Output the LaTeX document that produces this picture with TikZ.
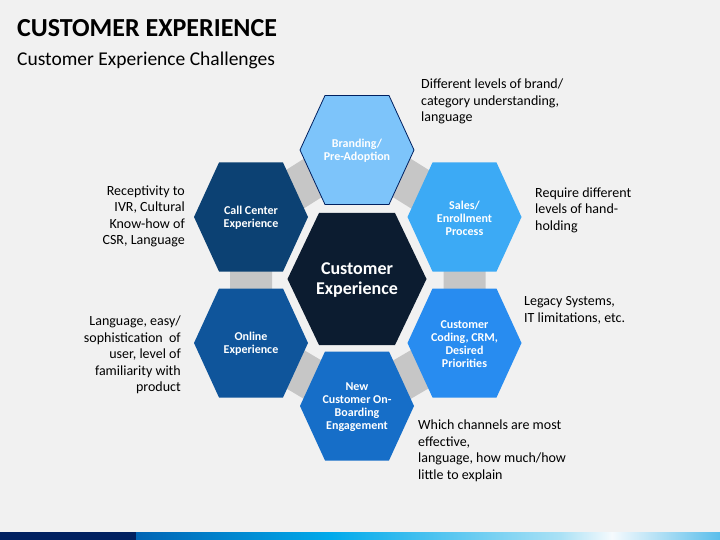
\documentclass[tikz,border=0pt]{standalone}
\usepackage{fontspec}
\setmainfont{Carlito}
\definecolor{bgc}{RGB}{241,241,241}
\definecolor{cbrand}{RGB}{125,196,250}
\definecolor{ccall}{RGB}{12,65,115}
\definecolor{csales}{RGB}{60,170,245}
\definecolor{ccenter}{RGB}{12,28,48}
\definecolor{conline}{RGB}{15,85,155}
\definecolor{ccoding}{RGB}{40,140,240}
\definecolor{cnew}{RGB}{22,110,200}
\definecolor{cband}{RGB}{198,198,198}
\definecolor{cnavy}{RGB}{0,32,96}
\newcommand\hexpath[5]{(#1-#3,#2) -- (#1-#5,#2-#4) -- (#1+#5,#2-#4) -- (#1+#3,#2) -- (#1+#5,#2+#4) -- (#1-#5,#2+#4) -- cycle}
\begin{document}
\begin{tikzpicture}[x=1pt,y=-1pt,
  hextext/.style={text=white,font=\bfseries\fontsize{12}{13}\selectfont,align=center,inner sep=0},
  note/.style={font=\fontsize{14}{16.5}\selectfont,inner sep=0,text=black},
  notel/.style={note,align=left,anchor=west},
  noter/.style={note,align=right,anchor=east}]
\fill[bgc] (0,0) rectangle (720,540);
\useasboundingbox (0,0) rectangle (720,540);
% title
\node[anchor=base west,inner sep=0,font=\bfseries\fontsize{26}{30}\selectfont] (title) at (17,37) {CUSTOMER EXPERIENCE};
\node[anchor=base west,inner sep=0,font=\fontsize{19.5}{23}\selectfont] (subtitle) at (17,66) {Customer Experience Challenges};
% gray band
\coordinate (pcall) at (251,217);
\coordinate (pbrand) at (357,150);
\coordinate (psales) at (464.5,217);
\coordinate (pcoding) at (464.5,343);
\coordinate (pnew) at (357,406);
\coordinate (ponline) at (251,343);
\draw[cband,line width=42pt,line join=round] (pcall) -- (pbrand) -- (psales) -- (pcoding) -- (pnew) -- (ponline) -- cycle;
% hexagons
\fill[cbrand,draw=cnavy,line width=0.8pt] \hexpath{357}{150}{57}{54.5}{32};
\fill[ccall] \hexpath{251}{217}{57}{54.5}{32};
\fill[csales] \hexpath{464.5}{217}{57}{54.5}{32};
\fill[conline] \hexpath{251}{343}{57}{54.5}{32};
\fill[ccoding] \hexpath{464.5}{343}{57}{54.5}{32};
\fill[cnew] \hexpath{357}{406}{57}{54.5}{32};
\fill[ccenter] \hexpath{357}{279}{69.5}{66}{38};
% hexagon texts
\node[hextext] (brand) at (357,151) {Branding/\\Pre-Adoption};
\node[hextext] (call) at (251,218) {Call Center\\Experience};
\node[hextext] (sales) at (464.5,218) {Sales/\\Enrollment\\Process};
\node[hextext,font=\bfseries\fontsize{18}{20}\selectfont] (center) at (357,280) {Customer\\Experience};
\node[hextext] (online) at (251,344) {Online\\Experience};
\node[hextext] (coding) at (464.5,344) {Customer\\Coding, CRM,\\Desired\\Priorities};
\node[hextext] (new) at (357,407) {New\\Customer On-\\Boarding\\Engagement};
% notes
\node[notel] (nbrand) at (421,101.5) {Different levels of brand/\\category understanding,\\language};
\node[notel] (nsales) at (535,210) {Require different\\levels of hand-\\holding};
\node[notel] (ncoding) at (524,310.5) {Legacy Systems,\\IT limitations, etc.};
\node[notel] (nnew) at (418,451) {Which channels are most\\effective,\\language, how much/how\\little to explain};
\node[noter] (ncall) at (185,216.5) {Receptivity to\\IVR, Cultural\\Know-how of\\CSR, Language};
\node[noter] (nonline) at (181,355) {Language, easy/\\sophistication~ of\\user, level of\\familiarity with\\product};
% bottom bar
\fill[cnavy] (0,532) rectangle (136,540);
\shade[left color={rgb,255:red,0;green,100;blue,180},right color={rgb,255:red,0;green,170;blue,235}] (136,532) rectangle (330,540);
\shade[left color={rgb,255:red,0;green,170;blue,235},right color={rgb,255:red,170;green,225;blue,245}] (330,532) rectangle (560,540);
\shade[left color={rgb,255:red,170;green,225;blue,245},right color={rgb,255:red,245;green,250;blue,253}] (560,532) rectangle (612,540);
\shade[left color={rgb,255:red,245;green,250;blue,253},right color={rgb,255:red,90;green,190;blue,235}] (612,532) rectangle (720,540);
\end{tikzpicture}
\end{document}
